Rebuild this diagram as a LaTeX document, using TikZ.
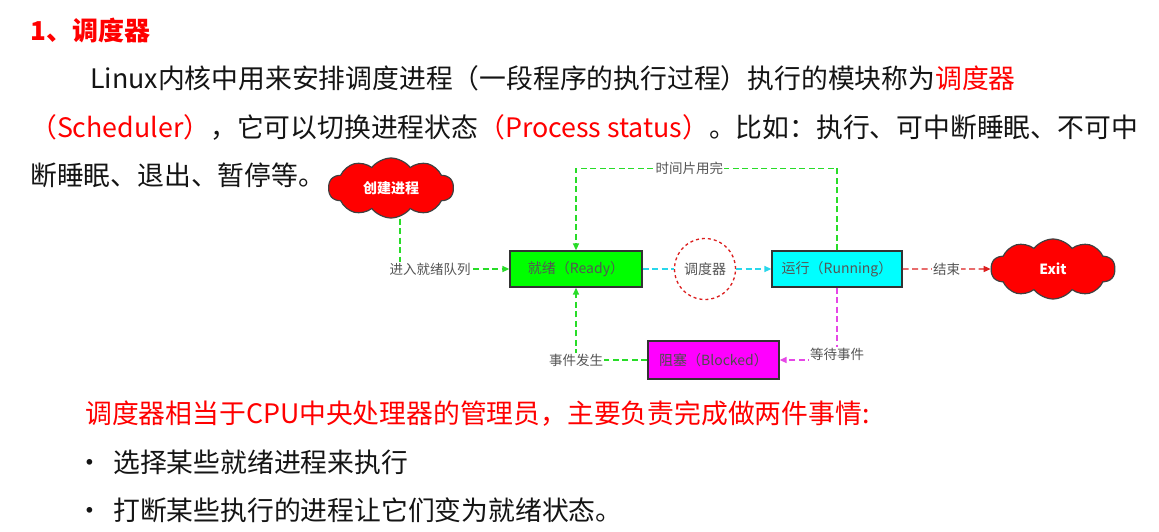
\documentclass[tikz,border=0pt]{standalone}
\usepackage{fontspec}
\setmainfont{Noto Sans CJK SC}
\usetikzlibrary{shapes.symbols,arrows.meta}
\definecolor{lgreen}{RGB}{40,220,40}
\definecolor{lcyan}{RGB}{40,215,235}
\definecolor{lmag}{RGB}{230,70,230}
\definecolor{lred}{RGB}{220,30,30}
\definecolor{boxgreen}{RGB}{0,255,0}
\definecolor{boxcyan}{RGB}{0,255,255}
\definecolor{boxmag}{RGB}{255,0,255}
\definecolor{cloudred}{RGB}{255,0,0}
\definecolor{labgray}{RGB}{85,85,85}
\definecolor{bodytext}{RGB}{20,20,20}
\begin{document}
\begin{tikzpicture}[x=1pt,y=-1pt,
  para/.style={anchor=base west, inner sep=0pt, text=bodytext, font=\fontsize{26.8}{30}\selectfont},
  statebox/.style={draw=black!80, line width=1.3pt, minimum width=132pt, minimum height=36pt,
    inner sep=0pt, text=labgray, font=\fontsize{14}{16}\selectfont},
  puff/.style={cloud, cloud puffs=10, cloud puff arc=105, cloud ignores aspect, draw=black!75, line width=1.2pt,
    fill=cloudred, text=white, font=\bfseries\fontsize{14}{16}\selectfont,
    minimum width=125pt, minimum height=60pt},
  flow/.style={dash pattern=on 6pt off 3.5pt, line width=1.4pt},
  tip/.style={-{Triangle[length=7pt,width=6pt]}},
  lbl/.style={fill=white, inner sep=1pt, text=labgray, font=\fontsize{13.5}{15}\selectfont}]
\useasboundingbox[fill=white] (0,0) rectangle (1159,531);

% heading and introduction
\node[para, text=red, font=\bfseries\fontsize{26}{30}\selectfont] (title) at (30,40) {1、调度器};
\node[para] (l1) at (90,88) {Linux内核中用来安排调度进程（一段程序的执行过程）执行的模块称为\textcolor{red}{调度器}};
\node[para] (l2) at (30,137) {\textcolor{red}{（Scheduler）}，它可以切换进程状态\textcolor{red}{（Process status）}。比如：执行、可中断睡眠、不可中};
\node[para] (l3) at (30,185) {断睡眠、退出、暂停等。};

% process state diagram
\node[puff] (create) at (391,188) {创建进程};
\node[statebox, fill=boxgreen] (ready) at (576,269) {就绪（Ready）};
\node[circle, draw=lred, dashed, line width=1.3pt, minimum size=61pt, inner sep=0pt,
  text=labgray, font=\fontsize{14}{16}\selectfont] (sched) at (705,269) {调度器};
\node[statebox, fill=boxcyan, minimum width=130pt] (running) at (837,269) {运行（Running）};
\node[puff, minimum width=124pt] (exit) at (1053,269) {Exit};
\node[statebox, fill=boxmag, minimum width=131pt, minimum height=38pt, text=black!70] (blocked) at (713.5,360) {阻塞（Blocked）};

\draw[flow, lgreen, tip] ([xshift=9pt]create.south) |- node[pos=0.5, anchor=west, xshift=-12pt, lbl] {进入就绪队列} (ready.west);
\draw[flow, lgreen, tip] (running.north) -- ++(0,-82) -| node[pos=0.283, lbl] {时间片用完} (ready.north);
\draw[flow, lcyan] (ready.east) -- (sched.west);
\draw[flow, lcyan, tip] (sched.east) -- (running.west);
\draw[flow, lred, tip] (running.east) -- node[lbl] {结束} (exit.west);
\draw[flow, lmag, tip] (running.south) |- node[pos=0.5, yshift=6pt, lbl] {等待事件} (blocked.east);
\draw[flow, lgreen, tip] (blocked.west) -| node[pos=0.5, lbl] {事件发生} (ready.south);

% duties of the scheduler
\node[para, text=red] (duty) at (85,423) {调度器相当于CPU中央处理器的管理员，主要负责完成做两件事情:};
\node[para] (dot1) at (76,472) {•};
\node[para] (b1) at (113,472) {选择某些就绪进程来执行};
\node[para] (dot2) at (76,520) {•};
\node[para] (b2) at (113,520) {打断某些执行的进程让它们变为就绪状态。};
\end{tikzpicture}
\end{document}
